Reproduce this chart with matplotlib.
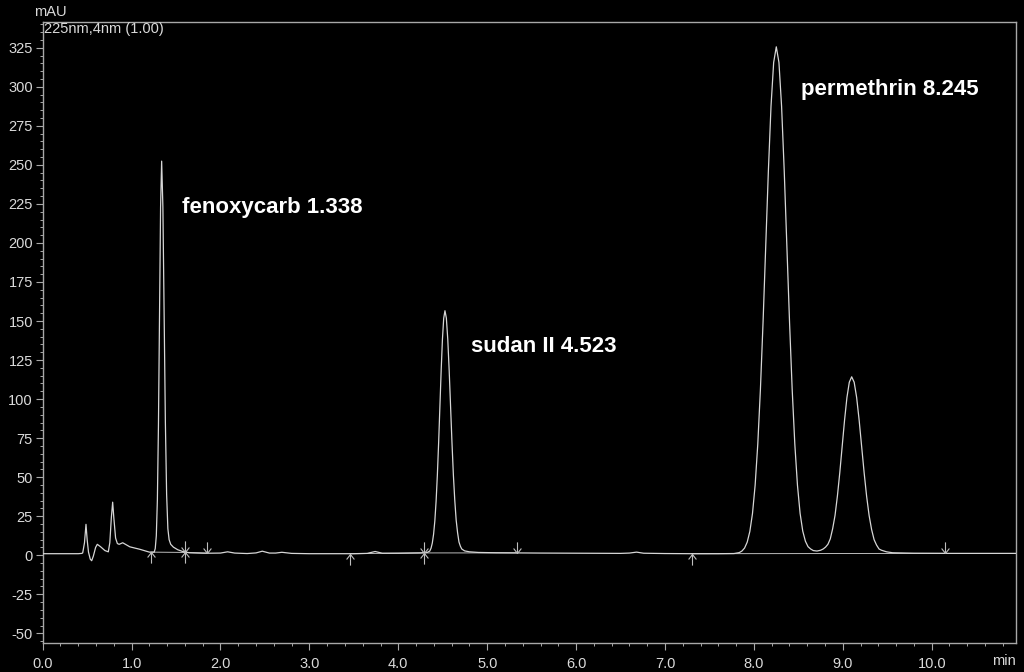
import matplotlib
matplotlib.use("Agg")
import matplotlib.pyplot as plt
from matplotlib.path import Path
from matplotlib.ticker import MultipleLocator, FormatStrFormatter

plt.rcParams['font.family'] = ['Liberation Sans', 'DejaVu Sans']

# ---- data ----
time_min = [0.00, 0.40, 0.44, 0.45, 0.47, 0.487, 0.50, 0.515, 0.535, 0.551, 0.57, 0.595, 0.614,
            0.65, 0.70, 0.738, 0.755, 0.772, 0.787, 0.80, 0.82, 0.84, 0.86, 0.90, 0.98, 1.094,
            1.20, 1.254, 1.266, 1.278, 1.290, 1.302, 1.314, 1.326, 1.338, 1.352, 1.366, 1.380,
            1.394, 1.408, 1.422, 1.44, 1.47, 1.52, 1.58, 1.65, 1.85, 2.00, 2.08, 2.16, 2.30,
            2.40, 2.47, 2.55, 2.62, 2.69, 2.80, 3.00, 3.50, 3.65, 3.74, 3.82, 4.00, 4.25,
            4.3255, 4.354, 4.3825, 4.411, 4.4395, 4.468, 4.4823, 4.4965, 4.5108, 4.525,
            4.5408, 4.5565, 4.5723, 4.588, 4.6195, 4.651, 4.6825, 4.714, 4.7455, 4.80, 4.90,
            5.10, 5.34, 5.60, 6.00, 6.50, 6.60, 6.68, 6.76, 7.00, 7.30, 7.60, 7.776, 7.8355,
            7.895, 7.9545, 8.014, 8.0735, 8.133, 8.1628, 8.1925, 8.2223, 8.252, 8.2818,
            8.3115, 8.3413, 8.371, 8.4305, 8.490, 8.5495, 8.609, 8.6685, 8.71, 8.75, 8.779,
            8.8325, 8.886, 8.9395, 8.993, 9.0198, 9.0465, 9.0732, 9.10, 9.128, 9.156, 9.184,
            9.212, 9.268, 9.324, 9.38, 9.436, 9.492, 9.56, 9.80, 10.15, 10.945]
signal_mAU = [1.0, 1.0, 1.2, 1.5, 8.0, 19.8, 10.0, 2.0, -2.5, -3.5, -0.5, 5.0, 7.0,
              5.5, 3.0, 2.2, 8.0, 24.0, 34.0, 24.0, 11.0, 7.5, 7.0, 8.0, 5.4, 3.8,
              2.0, 2.0, 4.3, 12.5, 35.5, 83.0, 153.5, 223.0, 252.4, 223.0, 154.0, 85.0,
              39.0, 17.0, 10.0, 7.0, 5.2, 3.5, 2.3, 1.6, 1.3, 1.4, 2.2, 1.4, 1.1,
              1.5, 2.6, 1.4, 1.4, 1.9, 1.2, 1.0, 1.0, 1.2, 2.4, 1.3, 1.3, 1.5,
              1.8, 2.7, 7.8, 22.0, 51.5, 95.4, 118.4, 138.3, 151.8, 156.6,
              151.8, 138.3, 118.4, 95.4, 51.5, 22.5, 8.5, 4.0, 2.8, 2.2, 1.8,
              1.6, 1.5, 1.4, 1.3, 1.2, 1.4, 2.0, 1.3, 1.1, 1.0, 1.0, 1.1, 1.7,
              4.6, 15.25, 44.9, 106.4, 197.9, 246.0, 287.5, 315.6, 325.6, 315.6,
              287.5, 246.0, 197.9, 106.4, 44.9, 15.5, 5.5, 3.0, 2.7, 3.2, 4.0,
              7.0, 17.0, 38.0, 69.7, 86.5, 101.0, 110.8, 114.3, 110.8, 101.0, 86.5,
              69.7, 37.8, 16.5, 6.5, 3.2, 2.2, 1.6, 1.3, 1.2, 1.2]

# extra readings on the flanks of the larger peaks
time_flank = [4.3683, 4.3968, 4.4253, 4.4538, 4.6038, 4.6353, 4.6668, 4.6983,
              7.8653, 7.9248, 7.9843, 8.0438, 8.1033, 8.4008, 8.4603, 8.5198, 8.5793, 8.6388,
              8.8057, 8.8592, 8.9127, 8.9662, 9.24, 9.296, 9.352, 9.408]
signal_flank = [4.5, 13.4, 34.7, 72.2, 72.2, 35.2, 14.5, 5.8,
                2.7, 8.4, 26.8, 71.2, 149.6, 149.6, 71.2, 26.8, 9.0, 4.0,
                5.2, 10.5, 25.5, 52.9, 52.9, 25.5, 10.0, 4.0]

peak_names = ["fenoxycarb 1.338", "sudan II 4.523", "permethrin 8.245"]
label_x = [1.568, 4.818, 8.53]
label_y = [222.5, 134.0, 298.5]

# integration marks (time, baseline value)
start_marks_t = [1.218, 3.457, 7.30]
start_marks_v = [2.0, 1.0, 1.0]
end_marks_t = [1.85, 5.34, 10.15]
end_marks_v = [1.3, 1.5, 1.2]
both_marks_t = [1.60, 4.289]
both_marks_v = [1.8, 1.5]

# integration baseline segments
seg_t = [[1.218, 1.60, 1.85], [3.457, 4.289, 5.34], [7.30, 10.15]]
seg_v = [[2.0, 1.8, 1.3], [1.0, 1.5, 1.5], [1.0, 1.2]]

# ---- figure ----
pts = sorted(zip(time_min + time_flank, signal_mAU + signal_flank))
tt = [p[0] for p in pts]
vv = [p[1] for p in pts]

fig = plt.figure(figsize=(10.24, 6.72), dpi=100, facecolor='black')
ax = fig.add_axes([42.7/1024, 1 - 642.7/672, (1015.7 - 42.7)/1024, (642.7 - 22)/672])
ax.set_facecolor('black')

line_col = '#d6d6d6'
axis_col = '#a8a8a8'
text_col = '#dadada'

ax.plot(tt, vv, color=line_col, lw=0.9, zorder=3, solid_joinstyle='round')

for st, sv in zip(seg_t, seg_v):
    ax.plot(st, sv, color='#bbbbbb', lw=0.7, zorder=2)

up_arrow = Path([(0, 0), (0, -1), (-0.35, -0.45), (0, 0), (0.35, -0.45)],
                [Path.MOVETO, Path.LINETO, Path.MOVETO, Path.LINETO, Path.LINETO])
down_arrow = Path([(0, 0), (0, 1), (-0.35, 0.45), (0, 0), (0.35, 0.45)],
                  [Path.MOVETO, Path.LINETO, Path.MOVETO, Path.LINETO, Path.LINETO])
mk = dict(color='#bdbdbd', markersize=16, markeredgewidth=0.8, linestyle='none', zorder=4,
          markerfacecolor='none')
ax.plot(start_marks_t, start_marks_v, marker=up_arrow, **mk)
ax.plot(end_marks_t, end_marks_v, marker=down_arrow, **mk)
ax.plot(both_marks_t, both_marks_v, marker=up_arrow, **mk)
ax.plot(both_marks_t, both_marks_v, marker=down_arrow, **mk)

for name, lx, ly in zip(peak_names, label_x, label_y):
    ax.text(lx, ly, name, color='white', fontsize=16, fontweight='bold',
            ha='left', va='center', zorder=5)

ax.set_xlim(0, 10.945)
ax.set_ylim(-56.0, 341.5)

ax.xaxis.set_major_locator(MultipleLocator(1.0))
ax.xaxis.set_minor_locator(MultipleLocator(0.2))
ax.xaxis.set_major_formatter(FormatStrFormatter('%.1f'))
ax.yaxis.set_major_locator(MultipleLocator(25))
ax.yaxis.set_minor_locator(MultipleLocator(5))
ax.yaxis.set_major_formatter(FormatStrFormatter('%d'))

for sp in ax.spines.values():
    sp.set_color(axis_col)
    sp.set_linewidth(1.0)

ax.tick_params(axis='both', which='major', direction='out', length=5, width=0.8,
               colors=axis_col, labelcolor=text_col, labelsize=10.5, pad=2)
ax.tick_params(axis='both', which='minor', direction='out', length=2.5, width=0.7,
               colors=axis_col)
ax.tick_params(axis='x', which='major', pad=5)

fig.text(50/1024, 1 - 12/672, "mAU", color=text_col, fontsize=10.5, ha='center', va='center')
fig.text(44/1024, 1 - 29/672, "225nm,4nm (1.00)", color=text_col, fontsize=10.5,
         ha='left', va='center')
fig.text(1004/1024, 1 - 661/672, "min", color=text_col, fontsize=10.5, ha='center', va='center')

fig.savefig("out.png", dpi=100, facecolor='black')
